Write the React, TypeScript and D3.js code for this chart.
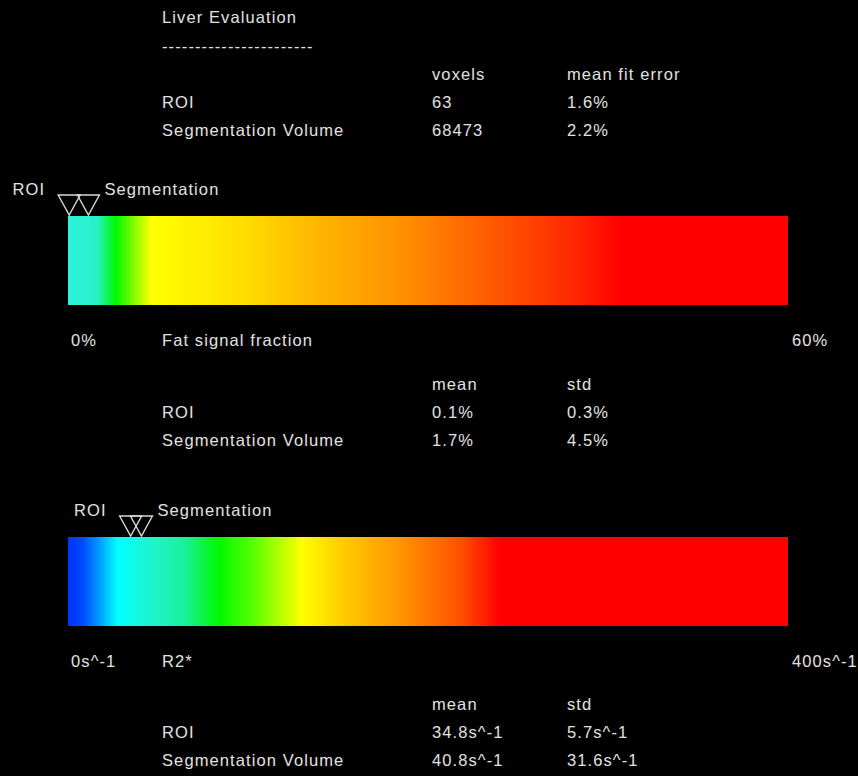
import { scaleLinear } from 'd3'

// summary table
const rowLabels = ['ROI', 'Segmentation Volume']
const voxelCounts = [63, 68473]
const meanFitError = [1.6, 2.2]

// fat signal fraction (%)
const fatMean = [0.1, 1.7]
const fatStd = [0.3, 4.5]
const fatDomain: [number, number] = [0, 60]
const fatStopValues = [0, 2.4, 4, 6.9, 15, 21, 27, 36.6, 42.6, 46.2, 60]
const fatStopColors = ['#30f2dc', '#28f0c8', '#00f800', '#ffff00', '#ffdc00', '#ffb400', '#ff9600', '#ff5000', '#ff2400', '#ff0000', '#ff0000']

// R2* (s^-1)
const r2Mean = [34.8, 40.8]
const r2Std = [5.7, 31.6]
const r2Domain: [number, number] = [0, 400]
const r2StopValues = [0, 8, 16, 27.6, 48, 64, 84, 104, 130, 152, 184, 218, 240, 400]
const r2StopColors = ['#0034ff', '#0048ff', '#0090ff', '#00ffff', '#20f4c8', '#18f0a0', '#00f800', '#60ff00', '#ffff00', '#ffcc00', '#ff9600', '#ff5000', '#ff0000', '#ff0000']

const markerNames = ['ROI', 'Segmentation']

const WIDTH = 858
const HEIGHT = 776
const BAR_LEFT = 68
const BAR_RIGHT = 788
const COL_LABEL = 162
const COL_A = 432
const COL_B = 567
const TEXT_STYLE = {
  fontFamily: '"Liberation Sans", Arial, sans-serif',
  fontSize: 16.5,
  letterSpacing: 1.1,
  fill: '#e2e2e2',
}

type ColorBarProps = {
  id: string
  top: number
  domain: [number, number]
  stopValues: number[]
  stopColors: string[]
  means: number[]
}

function ColorBar({ id, top, domain, stopValues, stopColors, means }: ColorBarProps) {
  const barHeight = 89
  const x = scaleLinear().domain(domain).range([BAR_LEFT, BAR_RIGHT])
  const offset = scaleLinear().domain(domain).range([0, 100])
  const triW = 22
  const triH = 20
  const [roiX, segX] = means.map((m) => x(m))

  return (
    <g>
      <defs>
        <linearGradient id={id} x1="0" x2="1" y1="0" y2="0">
          {stopValues.map((v, i) => (
            <stop key={i} offset={`${offset(v)}%`} stopColor={stopColors[i]} />
          ))}
        </linearGradient>
      </defs>
      <rect x={BAR_LEFT} y={top} width={BAR_RIGHT - BAR_LEFT} height={barHeight} fill={`url(#${id})`} />
      {means.map((m, i) => {
        const cx = x(m)
        return (
          <path
            key={i}
            d={`M${cx - triW / 2},${top - triH - 1} L${cx + triW / 2},${top - triH - 1} L${cx},${top - 1} Z`}
            fill="none"
            stroke="#d8d8d8"
            strokeWidth={1.4}
          />
        )
      })}
      <text {...TEXT_STYLE} x={roiX - triW / 2 - 13} y={top - 21} textAnchor="end">
        {markerNames[0]}
      </text>
      <text {...TEXT_STYLE} x={segX + triW / 2 + 5} y={top - 21}>
        {markerNames[1]}
      </text>
    </g>
  )
}

type StatsProps = {
  top: number
  headers: [string, string]
  colA: string[]
  colB: string[]
}

function StatsTable({ top, headers, colA, colB }: StatsProps) {
  return (
    <g {...TEXT_STYLE}>
      <text x={COL_A} y={top}>{headers[0]}</text>
      <text x={COL_B} y={top}>{headers[1]}</text>
      {rowLabels.map((label, i) => (
        <g key={label}>
          <text x={COL_LABEL} y={top + 28 * (i + 1)}>{label}</text>
          <text x={COL_A} y={top + 28 * (i + 1)}>{colA[i]}</text>
          <text x={COL_B} y={top + 28 * (i + 1)}>{colB[i]}</text>
        </g>
      ))}
    </g>
  )
}

export default function App() {
  return (
    <svg
      width={WIDTH}
      height={HEIGHT}
      viewBox={`0 0 ${WIDTH} ${HEIGHT}`}
      style={{ position: 'absolute', left: 0, top: 0, display: 'block', background: '#000' }}
    >
      <rect width={WIDTH} height={HEIGHT} fill="#000" />
      <g {...TEXT_STYLE}>
        <text x={COL_LABEL} y={23}>Liver Evaluation</text>
        <text x={COL_LABEL} y={52}>{'-'.repeat(23)}</text>
      </g>
      <StatsTable
        top={80}
        headers={['voxels', 'mean fit error']}
        colA={voxelCounts.map(String)}
        colB={meanFitError.map((v) => `${v.toFixed(1)}%`)}
      />

      <ColorBar id="fat-grad" top={216} domain={fatDomain} stopValues={fatStopValues} stopColors={fatStopColors} means={fatMean} />
      <g {...TEXT_STYLE}>
        <text x={71} y={346}>{`${fatDomain[0]}%`}</text>
        <text x={COL_LABEL} y={346}>Fat signal fraction</text>
        <text x={792} y={346}>{`${fatDomain[1]}%`}</text>
      </g>
      <StatsTable
        top={390}
        headers={['mean', 'std']}
        colA={fatMean.map((v) => `${v.toFixed(1)}%`)}
        colB={fatStd.map((v) => `${v.toFixed(1)}%`)}
      />

      <ColorBar id="r2-grad" top={537} domain={r2Domain} stopValues={r2StopValues} stopColors={r2StopColors} means={r2Mean} />
      <g {...TEXT_STYLE}>
        <text x={71} y={667}>{`${r2Domain[0]}s^-1`}</text>
        <text x={COL_LABEL} y={667}>R2*</text>
        <text x={792} y={667}>{`${r2Domain[1]}s^-1`}</text>
      </g>
      <StatsTable
        top={710}
        headers={['mean', 'std']}
        colA={r2Mean.map((v) => `${v.toFixed(1)}s^-1`)}
        colB={r2Std.map((v) => `${v.toFixed(1)}s^-1`)}
      />
    </svg>
  )
}
